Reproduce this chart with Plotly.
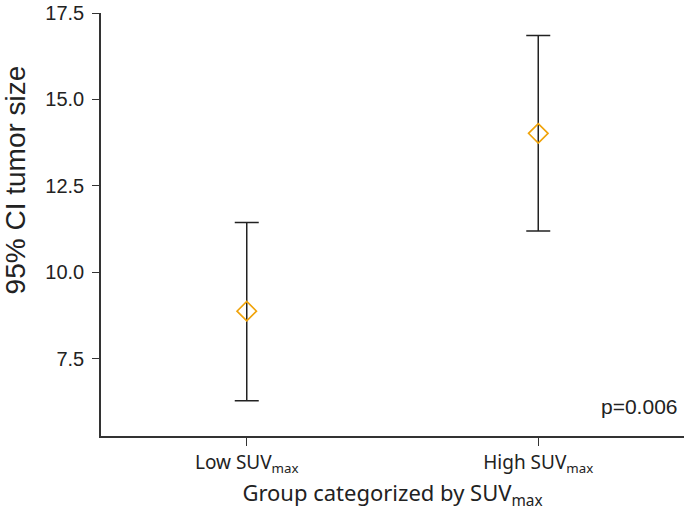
import plotly.graph_objects as go

groups = ["Low SUV<sub>max</sub>", "High SUV<sub>max</sub>"]
means = [8.88, 14.02]
upper = [11.44, 16.85]
lower = [6.29, 11.20]
y_ticks = [7.5, 10.0, 12.5, 15.0, 17.5]
y_tick_text = ["7.5", "10.0", "12.5", "15.0", "17.5"]

err_plus = [u - m for u, m in zip(upper, means)]
err_minus = [m - l for m, l in zip(means, lower)]

fig = go.Figure()
fig.add_trace(go.Scatter(
    x=groups, y=means, mode="markers",
    marker=dict(symbol="diamond-open", size=15, color="#F0A30A",
                line=dict(width=1.6, color="#F0A30A")),
    error_y=dict(type="data", symmetric=False, array=err_plus, arrayminus=err_minus,
                 color="#222222", thickness=1.5, width=12),
    showlegend=False,
))

fig.add_annotation(x=1, xref="paper", y=0.07, yref="paper", xanchor="right", yanchor="middle",
                   text="p=0.006", showarrow=False, xshift=-4,
                   font=dict(family="Liberation Sans, Arial", size=21, color="#222222"))

fig.add_annotation(x=-0.147, xref="paper", y=0.605, yref="paper", xanchor="center", yanchor="middle",
                   text="95% CI tumor size", showarrow=False, textangle=-90,
                   font=dict(family="Liberation Sans, Arial", size=28, color="#222222"))

fig.update_layout(
    width=684, height=514,
    margin=dict(l=101, r=0, t=13, b=78),
    plot_bgcolor="white", paper_bgcolor="white",
    xaxis=dict(
        type="category", range=[-0.5, 1.5], automargin=False,
        showline=True, linecolor="#333333", linewidth=1.5,
        ticks="outside", ticklen=8, tickwidth=1.2, tickcolor="#333333",
        showgrid=False, zeroline=False,
        tickfont=dict(family="Noto Sans", size=19, color="#222222"),
        title=dict(text="Group categorized by SUV<sub>max</sub>",
                   font=dict(family="Noto Sans", size=22, color="#222222"), standoff=10),
    ),
    yaxis=dict(
        range=[5.27, 17.5], automargin=False,
        tickvals=y_ticks, ticktext=y_tick_text,
        showline=True, linecolor="#333333", linewidth=1.5,
        ticks="outside", ticklen=7, tickwidth=1.2, tickcolor="#333333",
        showgrid=False, zeroline=False,
        tickfont=dict(family="Liberation Sans, Arial", size=20, color="#222222"),
        ticklabelstandoff=4, ticklabeloverflow="allow",
    ),
)

fig.write_html("out.html", config={"displayModeBar": False},
               post_script="document.body.style.margin='0';")
